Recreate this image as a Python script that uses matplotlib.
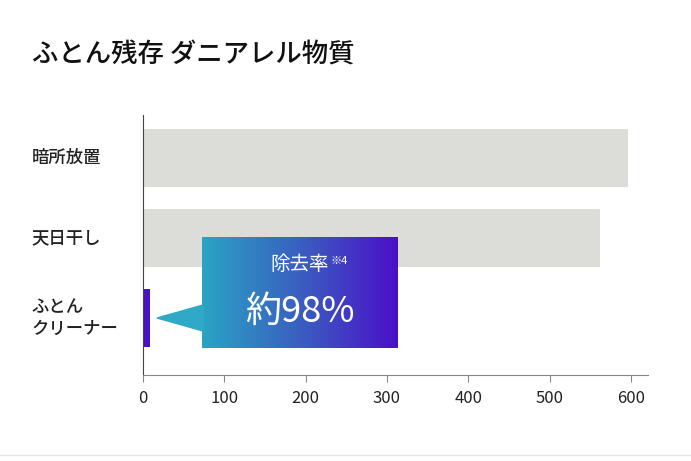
import matplotlib
matplotlib.use('agg')
import matplotlib.pyplot as plt
import numpy as np
from matplotlib.colors import LinearSegmentedColormap
from matplotlib.patches import Polygon

plt.rcParams['font.family'] = ['Noto Sans CJK JP', 'DejaVu Sans']

categories = ['暗所放置', '天日干し', 'ふとん\nクリーナー']
values = [596, 562, 9]
ticks = [0, 100, 200, 300, 400, 500, 600]
bar_colors = ['#dcdcd8', '#dcdcd8', '#4a10c8']

W, H = 691, 461
fig = plt.figure(figsize=(W / 100, H / 100), dpi=100)
ax = fig.add_axes([143 / W, 1 - 375 / H, (648 - 143) / W, (375 - 115) / H])

y = np.arange(len(categories))
ax.barh(y, values, height=0.72, color=bar_colors)
ax.set_ylim(2.71, -0.54)
ax.set_xlim(0, 621)
ax.set_xticks(ticks)
ax.set_xticklabels([str(t) for t in ticks], fontsize=12, color='#222')
ax.set_yticks([])
for i, c in enumerate(categories):
    ax.text(-0.22, i, c, transform=ax.get_yaxis_transform(), ha='left', va='center',
            fontsize=12.5, color='#222', linespacing=1.25, weight='medium')
for s in ['top', 'right']:
    ax.spines[s].set_visible(False)
ax.spines['left'].set_color('#444')
ax.spines['bottom'].set_color('#888')
ax.tick_params(axis='x', length=5, color='#888', pad=6)

fig.text(32 / W, 1 - 55 / H, 'ふとん残存 ダニアレル物質', fontsize=19, color='#111',
         va='center', weight='medium')

# callout pointer
tri = Polygon([[157 / W, 1 - 318 / H], [203 / W, 1 - 305 / H], [203 / W, 1 - 331 / H]],
              closed=True, transform=fig.transFigure, color='#30a8c8', zorder=5)
fig.patches.append(tri)

# gradient callout box
cmap = LinearSegmentedColormap.from_list('g', ['#2aa4c4', '#3a5fc0', '#4a10c8'])
bx = fig.add_axes([202 / W, 1 - 348 / H, (397 - 202) / W, (348 - 237) / H])
bx.imshow(np.linspace(0, 1, 256).reshape(1, -1), aspect='auto', cmap=cmap, extent=[0, 1, 0, 1])
bx.set_axis_off()
bx.text(0.5, 0.75, '除去率', color='white', fontsize=14, ha='center', va='center')
bx.text(0.66, 0.78, '※4', color='white', fontsize=8, ha='left', va='center')
bx.text(0.5, 0.33, '約98%', color='white', fontsize=26, ha='center', va='center')

fig.add_artist(plt.Line2D([0, 1], [1 - 455 / H] * 2, color='#e6e6e6', lw=1))

fig.savefig('out.png', dpi=100)
